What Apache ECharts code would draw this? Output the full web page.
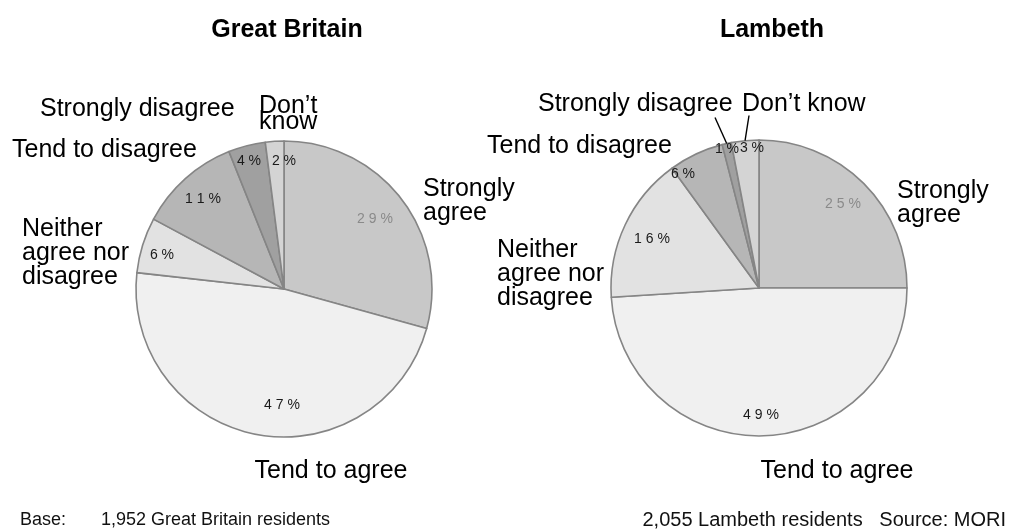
<!DOCTYPE html>
<html>
<head>
<meta charset="utf-8">
<script src="https://cdn.jsdelivr.net/npm/echarts@6/dist/echarts.min.js"></script>
<style>
html,body{margin:0;padding:0;background:#fff;}
#chart{width:1015px;height:529px;}
</style>
</head>
<body>
<div id="chart"></div>
<script>
// categories, clockwise from 12 o'clock
var categories = ['Strongly agree', 'Tend to agree', 'Neither agree nor disagree', 'Tend to disagree', 'Strongly disagree', 'Don\u2019t know'];
var gbValues = [29, 47, 6, 11, 4, 2];
var lambethValues = [25, 49, 16, 6, 1, 3];
var gbNames = ['Strongly\nagree', 'Tend to agree', 'Neither\nagree nor\ndisagree', 'Tend to disagree', 'Strongly disagree', 'Don\u2019t\nknow'];
var lambethNames = ['Strongly\nagree', 'Tend to agree', 'Neither\nagree nor\ndisagree', 'Tend to disagree', 'Strongly disagree', 'Don\u2019t know'];

var sliceColors = ['#c8c8c8', '#f0f0f0', '#e2e2e2', '#b6b6b6', '#a0a0a0', '#d4d4d4'];
var FONT = '"Liberation Sans", Arial, sans-serif';
var R = 148;

// label placement, relative to each pie centre
var gbNamePos = [[139,-88,'left'],[47,182,'center'],[-262,-36,'left'],[-272,-139,'left'],[-244,-180,'left'],[-25,-175,'left']];
var lamNamePos = [[138,-85,'left'],[78,183,'center'],[-262,-14,'left'],[-272,-142,'left'],[-221,-184,'left'],[-17,-184,'left']];
var gbPctPos = [[91,-70],[-2,116],[-122,-34],[-81,-90],[-35,-128],[0,-128]];
var lamPctPos = [[84,-84],[2,127],[-107,-49],[-76,-114],[-32,-139],[-7,-140]];
// top ends of the leader lines (only Lambeth has them)
var lamLeaderEnd = [null, null, null, null, [-44,-171], [-10,-173]];

function spaced(v){
	return (String(v) + '%').split('').join(' ');
}

function pieSeries(values, center, pctPos){
	var data = [];
	for(var i=0;i<values.length;i++){
		data.push({
			name: categories[i],
			value: values[i],
			itemStyle: {color: sliceColors[i]},
			label: {color: i==0 ? '#8a8a8a' : '#1a1a1a'}
		});
	}
	return {
		type: 'pie',
		center: center,
		radius: [0, R],
		startAngle: 90,
		clockwise: true,
		silent: true,
		animation: false,
		itemStyle: {borderColor: '#858585', borderWidth: 1.6},
		label: {
			show: true,
			position: 'inside',
			fontFamily: FONT,
			fontSize: 14,
			formatter: function(p){ return spaced(p.value); }
		},
		labelLine: {show: false},
		labelLayout: function(p){
			var q = pctPos[p.dataIndex];
			return {x: center[0] + q[0], y: center[1] + q[1], align: 'center', verticalAlign: 'middle'};
		},
		data: data
	};
}

function nameSeries(values, names, center, pos){
	var data = [];
	for(var i=0;i<values.length;i++){
		var lh = names[i].indexOf('know') > 0 && names[i].indexOf('\n') > 0 ? 16 : 24;
		data.push({name: names[i], value: values[i], label: {lineHeight: lh}});
	}
	return {
		type: 'pie',
		center: center,
		radius: [0, R],
		startAngle: 90,
		silent: true,
		animation: false,
		z: 3,
		itemStyle: {color: 'rgba(0,0,0,0)', borderWidth: 0},
		label: {
			show: true,
			position: 'outside',
			overflow: 'none',
			fontFamily: FONT,
			fontSize: 25,
			color: '#000',
			formatter: '{b}'
		},
		labelLine: {show: false},
		labelLayout: function(p){
			var q = pos[p.dataIndex];
			return {x: center[0] + q[0], y: center[1] + q[1], align: q[2], verticalAlign: 'middle', hideOverlap: false, moveOverlap: false};
		},
		data: data
	};
}

function leaderSeries(values, center, ends){
	var data = [];
	for(var i=0;i<values.length;i++){
		data.push({
			name: categories[i],
			value: values[i],
			label: {show: ends[i] != null},
			labelLine: {show: ends[i] != null}
		});
	}
	return {
		type: 'pie',
		center: center,
		radius: [0, R],
		startAngle: 90,
		silent: true,
		animation: false,
		z: 3,
		itemStyle: {color: 'rgba(0,0,0,0)', borderWidth: 0},
		label: {position: 'outside', formatter: ' ', fontSize: 1, color: 'rgba(0,0,0,0)'},
		labelLine: {length: 1, length2: 0, smooth: false, lineStyle: {color: '#000', width: 1.4}},
		labelLayout: function(p){
			var q = ends[p.dataIndex];
			if(!q) return {};
			return {x: center[0] + q[0], y: center[1] + q[1], align: 'center', verticalAlign: 'middle', hideOverlap: false, moveOverlap: false};
		},
		data: data
	};
}

var myChart = echarts.init(document.getElementById('chart'), null, {renderer: 'canvas'});
var gbCenter = [284, 289];
var lamCenter = [759, 288];

var option = {
	backgroundColor: '#fff',
	animation: false,
	title: [
		{text: 'Great Britain', left: 282, top: 13, textAlign: 'center', textStyle: {fontFamily: FONT, fontSize: 25, fontWeight: 'bold', color: '#000'}},
		{text: 'Lambeth', left: 767, top: 13, textAlign: 'center', textStyle: {fontFamily: FONT, fontSize: 25, fontWeight: 'bold', color: '#000'}},
		{text: 'Base:', left: 15, top: 506, textStyle: {fontFamily: FONT, fontSize: 18, fontWeight: 'normal', color: '#111'}},
		{text: '1,952 Great Britain residents', left: 96, top: 506, textStyle: {fontFamily: FONT, fontSize: 18, fontWeight: 'normal', color: '#111'}},
		{text: '2,055 Lambeth residents   Source: MORI', right: 4, top: 505, textStyle: {fontFamily: FONT, fontSize: 20, fontWeight: 'normal', color: '#111'}}
	],
	series: [
		pieSeries(gbValues, gbCenter, gbPctPos),
		pieSeries(lambethValues, lamCenter, lamPctPos),
		nameSeries(gbValues, gbNames, gbCenter, gbNamePos),
		nameSeries(lambethValues, lambethNames, lamCenter, lamNamePos),
		leaderSeries(lambethValues, lamCenter, lamLeaderEnd)
	]
};
myChart.setOption(option);
</script>
</body>
</html>
